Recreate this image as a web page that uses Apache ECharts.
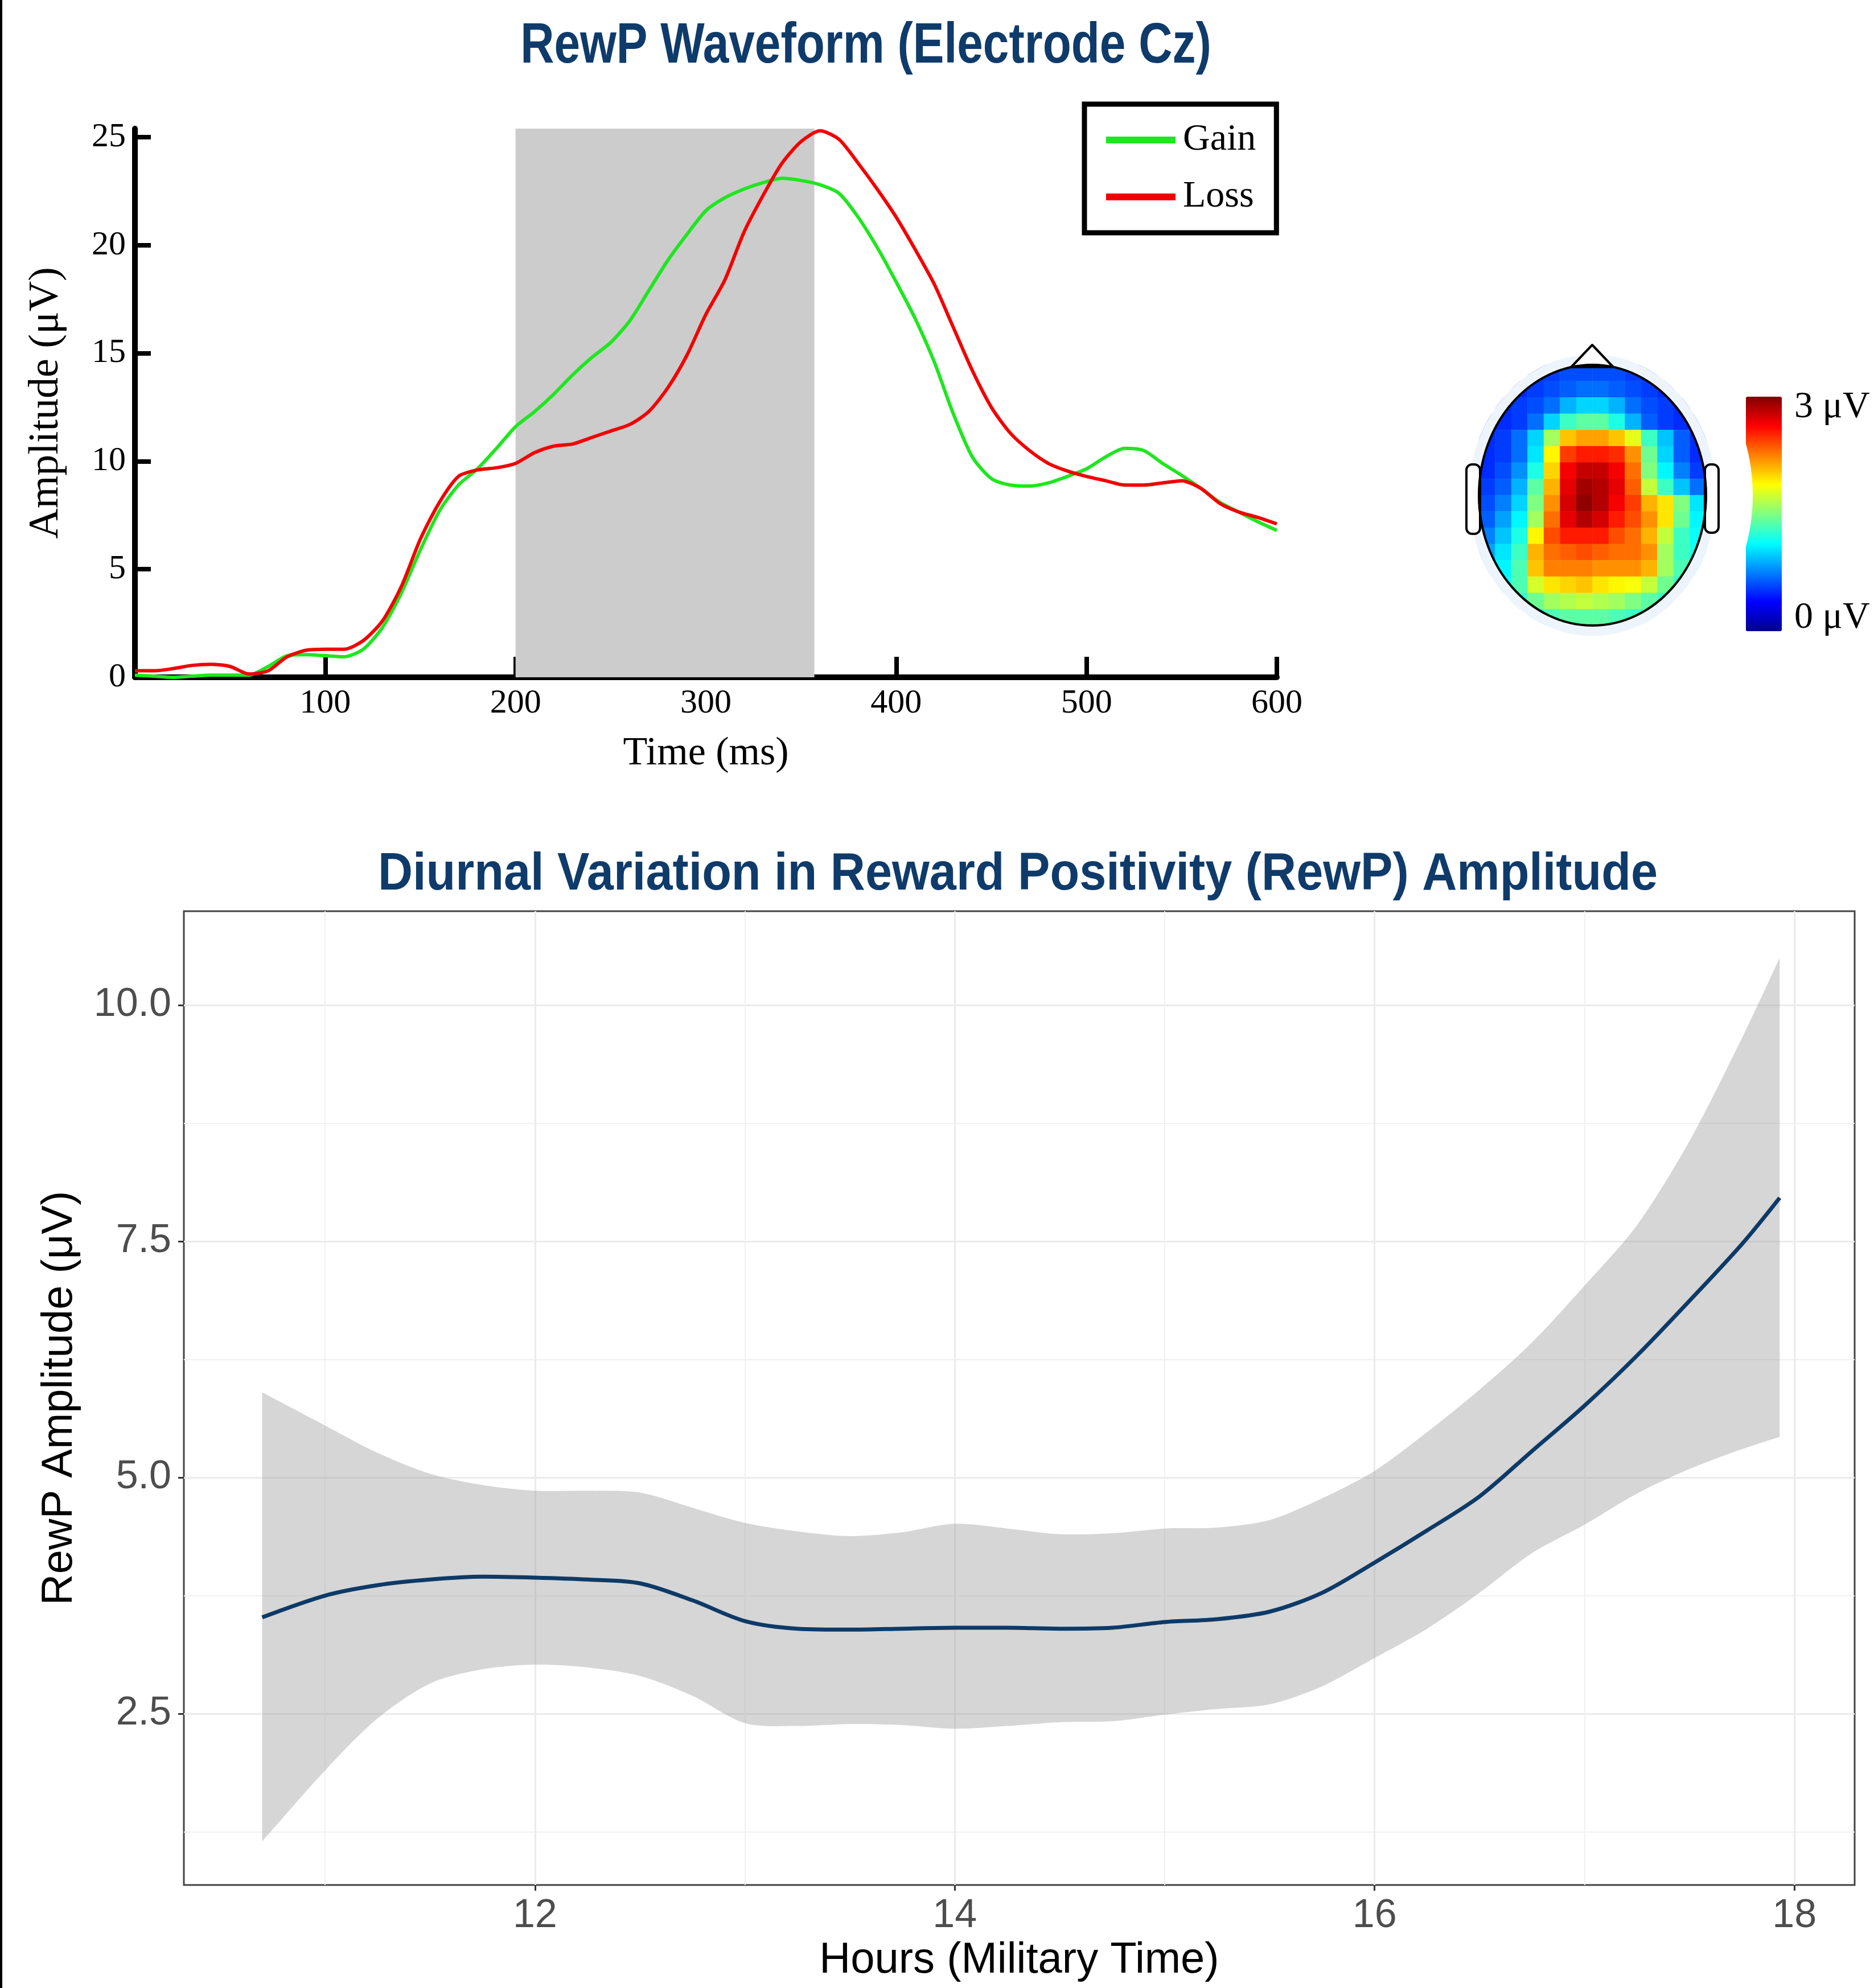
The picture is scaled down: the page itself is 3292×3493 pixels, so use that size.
<!DOCTYPE html>
<html>
<head>
<meta charset="utf-8">
<title>RewP</title>
<script src="https://cdn.jsdelivr.net/npm/echarts@6/dist/echarts.min.js"></script>
<style>
html, body { margin: 0; padding: 0; background: #fff; }
#main { width: 3292px; height: 3493px; }
</style>
</head>
<body>
<div id="main"></div>
<script>
// RewP waveform at Cz (ms, uV)
var timeMs = [0, 10, 20, 30, 40, 50, 60, 70, 80, 90,
  100, 110, 120, 130, 140, 150, 160, 170, 180, 190,
  200, 210, 220, 230, 240, 250, 260, 270, 280, 290,
  300, 310, 320, 330, 340, 350, 360, 370, 380, 390,
  400, 410, 420, 430, 440, 450, 460, 470, 480, 490,
  500, 510, 520, 530, 540, 550, 560, 570, 580, 590, 600];
var gainAmp = [0.1, 0.05, 0.0, 0.05, 0.1, 0.1, 0.1, 0.5, 1.0, 1.05,
  1.0, 0.95, 1.3, 2.3, 3.9, 5.9, 7.7, 8.9, 9.65, 10.6,
  11.6, 12.3, 13.1, 14.0, 14.8, 15.5, 16.5, 17.9, 19.3, 20.5,
  21.6, 22.2, 22.6, 22.9, 23.1, 23.0, 22.8, 22.4, 21.3, 19.9,
  18.3, 16.6, 14.6, 12.2, 10.2, 9.2, 8.9, 8.85, 9.0, 9.3,
  9.65, 10.2, 10.6, 10.5, 9.9, 9.35, 8.75, 8.1, 7.65, 7.2, 6.8];
var lossAmp = [0.3, 0.3, 0.4, 0.55, 0.6, 0.5, 0.15, 0.3, 0.95, 1.25,
  1.3, 1.3, 1.7, 2.6, 4.2, 6.4, 8.1, 9.3, 9.6, 9.7,
  9.9, 10.4, 10.7, 10.8, 11.1, 11.4, 11.7, 12.3, 13.4, 14.9,
  16.8, 18.4, 20.6, 22.3, 23.8, 24.8, 25.3, 24.9, 23.8, 22.6,
  21.3, 19.8, 18.2, 16.2, 14.2, 12.5, 11.3, 10.5, 9.9, 9.55,
  9.3, 9.1, 8.9, 8.9, 9.0, 9.1, 8.75, 8.05, 7.65, 7.4, 7.1];
var shadeWindow = [200, 357];
var timeTicks = [100, 200, 300, 400, 500, 600];
var ampTicks = [0, 5, 10, 15, 20, 25];

// scalp map, 14 columns x 16 rows (front at top), '-' = outside the head
var scalpMap = [
  ['-', '-', '-', 0.55, 0.55, 0.6, 0.6, 0.6, 0.6, 0.55, 0.55, '-', '-', '-'],
  ['-', '-', 0.5, 0.55, 0.6, 0.65, 0.7, 0.7, 0.65, 0.6, 0.55, 0.5, '-', '-'],
  ['-', 0.5, 0.55, 0.6, 0.7, 0.9, 1.0, 1.0, 0.9, 0.7, 0.6, 0.55, 0.5, '-'],
  [0.5, 0.5, 0.55, 0.7, 1.0, 1.3, 1.4, 1.4, 1.2, 0.9, 0.65, 0.55, 0.5, 0.5],
  [0.5, 0.55, 0.7, 1.0, 1.6, 2.05, 2.15, 2.15, 2.05, 1.8, 1.3, 0.95, 0.65, 0.5],
  [0.5, 0.55, 0.7, 1.05, 1.9, 2.45, 2.55, 2.55, 2.5, 2.2, 1.45, 1.0, 0.65, 0.5],
  [0.5, 0.6, 0.8, 1.2, 2.0, 2.65, 2.8, 2.8, 2.65, 2.3, 1.5, 1.1, 0.75, 0.55],
  [0.55, 0.65, 0.9, 1.4, 2.1, 2.7, 2.9, 2.85, 2.7, 2.35, 1.7, 1.3, 0.95, 0.7],
  [0.6, 0.75, 1.0, 1.5, 2.2, 2.75, 2.95, 2.85, 2.65, 2.45, 2.1, 1.95, 1.5, 1.05],
  [0.65, 0.85, 1.1, 1.6, 2.3, 2.7, 2.85, 2.75, 2.55, 2.4, 2.2, 1.95, 1.45, 1.1],
  [0.75, 0.95, 1.2, 1.9, 2.4, 2.55, 2.55, 2.55, 2.4, 2.3, 2.1, 1.7, 1.3, 1.15],
  [0.85, 1.05, 1.3, 2.1, 2.3, 2.35, 2.4, 2.35, 2.3, 2.3, 2.2, 1.6, 1.3, 1.2],
  [0.95, 1.1, 1.35, 2.05, 2.25, 2.25, 2.25, 2.2, 2.2, 2.2, 2.1, 1.6, 1.35, 1.2],
  ['-', 1.15, 1.35, 1.75, 1.95, 2.0, 2.05, 1.95, 1.9, 1.85, 1.7, 1.45, 1.3, '-'],
  ['-', '-', 1.3, 1.45, 1.6, 1.65, 1.7, 1.65, 1.6, 1.5, 1.4, 1.3, '-', '-'],
  ['-', '-', '-', 1.25, 1.35, 1.4, 1.4, 1.4, 1.35, 1.3, 1.25, '-', '-', '-']
];
var scalpRange = [0, 3];
var jet = ['#00008F', '#0000FF', '#0080FF', '#00FFFF', '#80FF80', '#FFFF00', '#FF8000', '#FF0000', '#800000'];

// diurnal variation: loess fit and its confidence band
var hours = [10.7, 11, 11.25, 11.5, 11.75, 12, 12.25, 12.5, 12.75, 13,
  13.25, 13.5, 13.75, 14, 14.25, 14.5, 14.75, 15, 15.25, 15.5,
  15.75, 16, 16.25, 16.5, 16.75, 17, 17.25, 17.5, 17.75, 17.93];
var rewpFit = [3.52, 3.75, 3.86, 3.92, 3.95, 3.94, 3.92, 3.88, 3.70, 3.48,
  3.40, 3.39, 3.40, 3.41, 3.41, 3.40, 3.41, 3.47, 3.50, 3.58,
  3.78, 4.10, 4.44, 4.80, 5.28, 5.76, 6.29, 6.87, 7.47, 7.96];
var rewpUpper = [5.90, 5.55, 5.26, 5.04, 4.92, 4.86, 4.86, 4.84, 4.68, 4.52,
  4.43, 4.38, 4.42, 4.51, 4.46, 4.40, 4.41, 4.46, 4.47, 4.55,
  4.78, 5.07, 5.48, 5.93, 6.43, 7.03, 7.67, 8.56, 9.65, 10.50];
var rewpLower = [1.15, 1.90, 2.45, 2.82, 2.97, 3.02, 2.99, 2.90, 2.69, 2.40,
  2.37, 2.39, 2.38, 2.34, 2.37, 2.41, 2.42, 2.49, 2.55, 2.60,
  2.79, 3.09, 3.40, 3.78, 4.20, 4.50, 4.83, 5.09, 5.30, 5.43];
var hourTicks = [12, 14, 16, 18];
var hourMinor = [11, 13, 15, 17];
var rewpTicks = [2.5, 5, 7.5, 10];
var rewpMinor = [1.25, 3.75, 6.25, 8.75];

var serif = '"Liberation Serif", "Times New Roman", serif';
var sans = '"Liberation Sans", Arial, sans-serif';
var navy = '#0f3b6b';

function pairs(xs, ys) {
  return xs.map(function (x, i) { return [x, ys[i]]; });
}

var heatData = [];
scalpMap.forEach(function (row, j) {
  row.forEach(function (v, i) {
    if (v !== '-') heatData.push([i, j, v]);
  });
});
var bandData = hours.map(function (h, i) { return [h, rewpLower[i], rewpUpper[i]]; });

// head outline geometry (decoration around the scalp map)
var head = { cx: 2797.5, cy: 870, rx: 199.5, ry: 229 };

var chart = echarts.init(document.getElementById('main'));

chart.setOption({
  animation: false,
  backgroundColor: '#fff',
  grid: [
    { left: 237, top: 226, width: 2006, height: 964, containLabel: false, outerBoundsMode: 'none' },
    { left: 323, top: 1601, width: 2935, height: 1711, containLabel: false, outerBoundsMode: 'none',
      show: true, borderColor: '#444', borderWidth: 3, backgroundColor: '#fff' },
    { left: 2598, top: 641, width: 399, height: 458, containLabel: false, outerBoundsMode: 'none' }
  ],
  legend: {
    data: ['Gain', 'Loss'],
    orient: 'vertical',
    left: 1905, top: 183,
    padding: [30, 36, 30, 38],
    itemWidth: 122, itemHeight: 12, itemGap: 34,
    icon: 'rect',
    borderColor: '#000', borderWidth: 9,
    textStyle: { fontFamily: serif, fontSize: 66, color: '#000', lineHeight: 64, padding: [0, 0, 0, 8] }
  },
  visualMap: {
    type: 'continuous',
    seriesIndex: 5,
    min: scalpRange[0], max: scalpRange[1],
    orient: 'vertical',
    left: 3067, top: 697,
    padding: 0,
    itemWidth: 63, itemHeight: 412,
    calculable: false,
    hoverLink: false,
    inRange: { color: jet }
  },
  xAxis: [
    {
      gridIndex: 0, type: 'value', min: 0, max: 600,
      axisLine: { onZero: false, lineStyle: { color: '#000', width: 10 } },
      axisTick: { inside: true, length: 36, customValues: timeTicks, lineStyle: { color: '#000', width: 8 } },
      axisLabel: { customValues: timeTicks, fontFamily: serif, fontSize: 60, color: '#000', margin: 16 },
      splitLine: { show: false },
      name: 'Time (ms)', nameLocation: 'middle', nameGap: 100,
      nameTextStyle: { fontFamily: serif, fontSize: 70, color: '#000' }
    },
    {
      gridIndex: 1, type: 'value', min: 10.327, max: 18.287,
      axisLine: { show: false, onZero: false },
      axisTick: { customValues: hourTicks, length: 10, lineStyle: { color: '#333', width: 3 } },
      axisLabel: { customValues: hourTicks, fontFamily: sans, fontSize: 70, color: '#4d4d4d', margin: 20 },
      splitLine: { show: true, lineStyle: { color: '#ebebeb', width: 3 } },
      name: 'Hours (Military Time)', nameLocation: 'middle', nameGap: 95,
      nameTextStyle: { fontFamily: sans, fontSize: 76, color: '#000' }
    },
    {
      gridIndex: 1, type: 'value', min: 10.327, max: 18.287, position: 'top',
      axisLine: { show: false, onZero: false },
      axisTick: { show: false, customValues: hourMinor },
      axisLabel: { show: false, customValues: hourMinor },
      splitLine: { show: true, lineStyle: { color: '#f1f1f1', width: 2 } }
    },
    {
      gridIndex: 2, type: 'category', show: false,
      data: scalpMap[0].map(function (_, i) { return i; })
    }
  ],
  yAxis: [
    {
      gridIndex: 0, type: 'value', min: 0, max: 25.4,
      axisLine: { show: true, onZero: false, lineStyle: { color: '#000', width: 10 } },
      axisTick: { show: true, inside: true, length: 28, customValues: ampTicks, lineStyle: { color: '#000', width: 8 } },
      axisLabel: { customValues: ampTicks, fontFamily: serif, fontSize: 60, color: '#000', margin: 16 },
      splitLine: { show: false },
      name: 'Amplitude (μV)', nameLocation: 'middle', nameGap: 118, nameRotate: 90,
      nameTextStyle: { fontFamily: serif, fontSize: 74, color: '#000' }
    },
    {
      gridIndex: 1, type: 'value', min: 0.687, max: 10.994,
      axisLine: { show: false, onZero: false },
      axisTick: { show: true, customValues: rewpTicks, length: 10, lineStyle: { color: '#333', width: 3 } },
      axisLabel: {
        customValues: rewpTicks, fontFamily: sans, fontSize: 70, color: '#4d4d4d', margin: 22,
        formatter: function (v) { return v.toFixed(1); }
      },
      splitLine: { show: true, lineStyle: { color: '#ebebeb', width: 3 } },
      name: 'RewP Amplitude (μV)', nameLocation: 'middle', nameGap: 180, nameRotate: 90,
      nameTextStyle: { fontFamily: sans, fontSize: 76, color: '#000' }
    },
    {
      gridIndex: 1, type: 'value', min: 0.687, max: 10.994, position: 'right',
      axisLine: { show: false, onZero: false },
      axisTick: { show: false, customValues: rewpMinor },
      axisLabel: { show: false, customValues: rewpMinor },
      splitLine: { show: true, lineStyle: { color: '#f1f1f1', width: 2 } }
    },
    {
      gridIndex: 2, type: 'category', show: false, inverse: true,
      data: scalpMap.map(function (_, j) { return j; })
    }
  ],
  series: [
    {
      name: 'window', type: 'line', xAxisIndex: 0, yAxisIndex: 0, data: [], z: 1, silent: true,
      markArea: {
        silent: true,
        itemStyle: { color: '#cbcccb' },
        data: [[{ xAxis: shadeWindow[0] }, { xAxis: shadeWindow[1] }]]
      }
    },
    {
      name: 'Gain', type: 'line', xAxisIndex: 0, yAxisIndex: 0, z: 3,
      data: pairs(timeMs, gainAmp), symbol: 'none', smooth: 0.25,
      lineStyle: { color: '#1fe61f', width: 6 }, itemStyle: { color: '#1fe61f' }
    },
    {
      name: 'Loss', type: 'line', xAxisIndex: 0, yAxisIndex: 0, z: 4,
      data: pairs(timeMs, lossAmp), symbol: 'none', smooth: 0.25,
      lineStyle: { color: '#f20000', width: 6 }, itemStyle: { color: '#f20000' }
    },
    {
      // confidence ribbon: upper edge left to right, lower edge back
      // (end points doubled so the smoothing keeps the vertical ends square)
      name: 'band', type: 'custom', xAxisIndex: 1, yAxisIndex: 1, silent: true, z: 2,
      data: bandData,
      encode: { x: 0, y: [1, 2] },
      renderItem: function (params, api) {
        if (params.dataIndex !== 0) return;
        var n = bandData.length;
        var pts = [];
        for (var i = 0; i < n; i++) {
          var up = api.coord([bandData[i][0], bandData[i][2]]);
          pts.push(up);
          if (i === 0 || i === n - 1) pts.push(up.slice());
        }
        for (var k = n - 1; k >= 0; k--) {
          var lo = api.coord([bandData[k][0], bandData[k][1]]);
          pts.push(lo);
          if (k === 0 || k === n - 1) pts.push(lo.slice());
        }
        return { type: 'polygon', shape: { points: pts, smooth: 0.3 }, style: { fill: 'rgba(153,153,153,0.4)' } };
      }
    },
    {
      name: 'fit', type: 'line', xAxisIndex: 1, yAxisIndex: 1, z: 5,
      data: pairs(hours, rewpFit), symbol: 'none', smooth: 0.3,
      lineStyle: { color: '#0d3a67', width: 7 }
    },
    {
      name: 'scalp', type: 'heatmap', xAxisIndex: 3, yAxisIndex: 3, silent: true,
      data: heatData, itemStyle: { borderWidth: 0 }
    }
  ],
  graphic: [
    { type: 'rect', z: 100, shape: { x: 0, y: 0, width: 4, height: 3493 }, style: { fill: '#000' } },
    {
      type: 'text', z: 100, x: 1521, y: 82, scaleX: 0.82,
      style: { text: 'RewP Waveform (Electrode Cz)', fontFamily: sans, fontWeight: 'bold', fontSize: 100,
        fill: navy, align: 'center', verticalAlign: 'middle' }
    },
    {
      type: 'text', z: 100, x: 1788, y: 1538, scaleX: 0.92,
      style: { text: 'Diurnal Variation in Reward Positivity (RewP) Amplitude', fontFamily: sans, fontWeight: 'bold',
        fontSize: 92, fill: navy, align: 'center', verticalAlign: 'middle' }
    },
    // mask the square cells outside the head, then the head drawing
    {
      type: 'ellipse', z: 100,
      shape: { cx: head.cx, cy: head.cy, rx: head.rx + 50, ry: head.ry + 50 },
      style: { fill: 'none', stroke: '#fff', lineWidth: 64 }
    },
    {
      type: 'ellipse', z: 101,
      shape: { cx: head.cx, cy: head.cy, rx: head.rx + 9, ry: head.ry + 9 },
      style: { fill: 'none', stroke: '#eef4fc', lineWidth: 18 }
    },
    {
      type: 'rect', z: 102, shape: { x: 2576, y: 816, width: 24, height: 122, r: 10 },
      style: { fill: '#fff', stroke: '#000', lineWidth: 4 }
    },
    {
      type: 'rect', z: 102, shape: { x: 2995, y: 816, width: 24, height: 120, r: 10 },
      style: { fill: '#fff', stroke: '#000', lineWidth: 4 }
    },
    {
      type: 'polygon', z: 102, shape: { points: [[2760, 645], [2797, 606], [2834, 645]] },
      style: { fill: '#fff', stroke: '#000', lineWidth: 4, lineJoin: 'round' }
    },
    {
      type: 'ellipse', z: 103,
      shape: { cx: head.cx, cy: head.cy, rx: head.rx, ry: head.ry },
      style: { fill: 'none', stroke: '#000', lineWidth: 4 }
    },
    {
      type: 'text', z: 100, x: 3152, y: 716,
      style: { text: '3 μV', fontFamily: serif, fontSize: 66, fill: '#000', align: 'left', verticalAlign: 'middle' }
    },
    {
      type: 'text', z: 100, x: 3152, y: 1086,
      style: { text: '0 μV', fontFamily: serif, fontSize: 66, fill: '#000', align: 'left', verticalAlign: 'middle' }
    }
  ]
});
</script>
</body>
</html>
